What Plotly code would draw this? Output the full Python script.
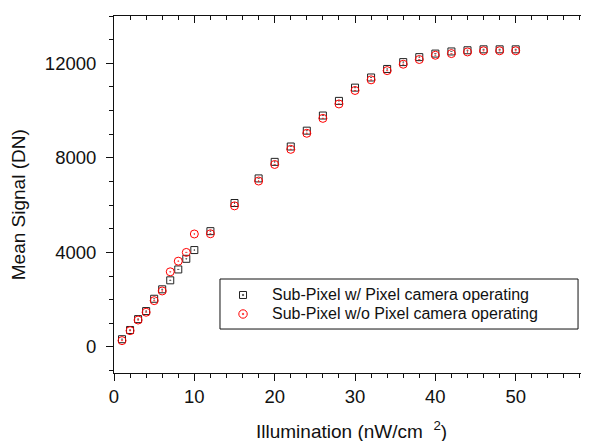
import plotly.graph_objects as go

illum = [1, 2, 3, 4, 5, 6, 7, 8, 9, 10, 12, 15, 18, 20, 22, 24, 26, 28, 30,
         32, 34, 36, 38, 40, 42, 44, 46, 48, 50]
with_pixel = [330, 720, 1180, 1520, 2040, 2440, 2820, 3280, 3730, 4100, 4900,
              6090, 7130, 7830, 8480, 9150, 9790, 10410, 10970, 11400, 11760,
              12050, 12260, 12410, 12500, 12550, 12590, 12590, 12590]
without_pixel = [270, 690, 1140, 1470, 1960, 2370, 3180, 3630, 4000, 4780, 4790,
                 5970, 7020, 7720, 8360, 9040, 9670, 10280, 10850, 11300, 11690,
                 11960, 12160, 12340, 12410, 12480, 12530, 12530, 12530]

name_with = "Sub-Pixel w/ Pixel camera operating"
name_without = "Sub-Pixel w/o Pixel camera operating"
x_title = "Illumination (nW/cm  <sup>2</sup>)"
y_title = "Mean Signal (DN)"

FONT = "Liberation Sans, Arial, sans-serif"
BLACK = "#222222"
RED = "#ff0000"

fig = go.Figure()
fig.add_trace(go.Scatter(
    x=illum, y=with_pixel, mode="markers", name=name_with,
    marker=dict(symbol="square-dot", size=7, color="rgba(0,0,0,0)",
                line=dict(color=BLACK, width=1)),
))
fig.add_trace(go.Scatter(
    x=illum, y=without_pixel, mode="markers", name=name_without,
    marker=dict(symbol="circle-dot", size=8, color="rgba(0,0,0,0)",
                line=dict(color=RED, width=1)),
))

xr = [0, 59]
yr = [-1100, 14000]

# legend geometry (paper coordinates)
lg_x0, lg_x1, lg_y0, lg_y1 = 0.2236, 0.979, 0.1232, 0.2633
mk_x = 0.2722
row_y = [0.2185, 0.1653]
txt_x = 0.329


def pix_shape(kind, cx, cy, half, color, fill="rgba(0,0,0,0)", width=1):
    return dict(type=kind, xref="paper", yref="paper",
                xsizemode="pixel", ysizemode="pixel",
                xanchor=cx, yanchor=cy,
                x0=-half, x1=half, y0=-half, y1=half,
                line=dict(color=color, width=width), fillcolor=fill,
                layer="above")


shapes = [
    dict(type="rect", xref="paper", yref="paper",
         x0=lg_x0, x1=lg_x1, y0=lg_y0, y1=lg_y1,
         line=dict(color="#111111", width=1), fillcolor="white", layer="below"),
    pix_shape("rect", mk_x, row_y[0], 3.5, BLACK),
    pix_shape("circle", mk_x, row_y[0], 0.8, BLACK, fill=BLACK, width=0.5),
    pix_shape("circle", mk_x, row_y[1], 4.2, RED),
    pix_shape("circle", mk_x, row_y[1], 0.8, RED, fill=RED, width=0.5),
]

annotations = [
    dict(text=name_with, xref="paper", yref="paper", x=txt_x, y=row_y[0],
         xanchor="left", yanchor="middle", showarrow=False,
         font=dict(size=16, family=FONT, color="#111111")),
    dict(text=name_without, xref="paper", yref="paper", x=txt_x, y=row_y[1],
         xanchor="left", yanchor="middle", showarrow=False,
         font=dict(size=16, family=FONT, color="#111111")),
    dict(text=x_title, xref="paper", yref="paper", x=0.502, y=-0.16,
         xanchor="center", yanchor="middle", showarrow=False,
         font=dict(size=19, family=FONT, color="#111111")),
    dict(text=y_title, xref="paper", yref="paper", x=-0.2025, y=0.47,
         xanchor="center", yanchor="middle", showarrow=False, textangle=-90,
         font=dict(size=19, family=FONT, color="#111111")),
]

# page body has an 8px margin, so the figure is sized/offset to compensate
fig.update_layout(
    width=581, height=433,
    margin=dict(l=106, r=1, t=8, b=68, autoexpand=False),
    paper_bgcolor="white", plot_bgcolor="white",
    font=dict(family=FONT, size=16, color="#111111"),
    showlegend=False,
    shapes=shapes,
    annotations=annotations,
    xaxis=dict(
        range=xr, showgrid=False, zeroline=False, automargin=False,
        showline=True, linecolor="#111111", linewidth=1,
        ticks="outside", ticklen=7, tickcolor="#111111", dtick=10, tick0=0,
        minor=dict(dtick=2, ticks="outside", ticklen=4, tickcolor="#111111"),
        tickfont=dict(size=18.5), tickformat="d",
    ),
    yaxis=dict(
        range=yr, showgrid=False, zeroline=False, automargin=False,
        showline=True, linecolor="#111111", linewidth=1,
        ticks="outside", ticklen=7, tickcolor="#111111", dtick=4000, tick0=0,
        minor=dict(dtick=1000, ticks="outside", ticklen=4, tickcolor="#111111"),
        tickfont=dict(size=18.5), tickformat="d", ticklabelstandoff=6,
    ),
    xaxis2=dict(
        range=xr, overlaying="x", side="top", showgrid=False, zeroline=False,
        automargin=False,
        showline=True, linecolor="#111111", linewidth=1,
        ticks="inside", ticklen=7, tickcolor="#111111", dtick=10, tick0=0,
        minor=dict(dtick=2, ticks="inside", ticklen=4, tickcolor="#111111"),
        showticklabels=False,
    ),
    yaxis2=dict(
        range=yr, overlaying="y", side="right", showgrid=False, zeroline=False,
        automargin=False,
        showline=True, linecolor="#111111", linewidth=1,
        ticks="inside", ticklen=7, tickcolor="#111111", dtick=4000, tick0=0,
        minor=dict(dtick=1000, ticks="inside", ticklen=4, tickcolor="#111111"),
        showticklabels=False,
    ),
)
# invisible helper trace to anchor the mirror axes
fig.add_trace(go.Scatter(x=[None], y=[None], xaxis="x2", yaxis="y2",
                         showlegend=False, hoverinfo="skip"))

fig.write_html("out.html")
